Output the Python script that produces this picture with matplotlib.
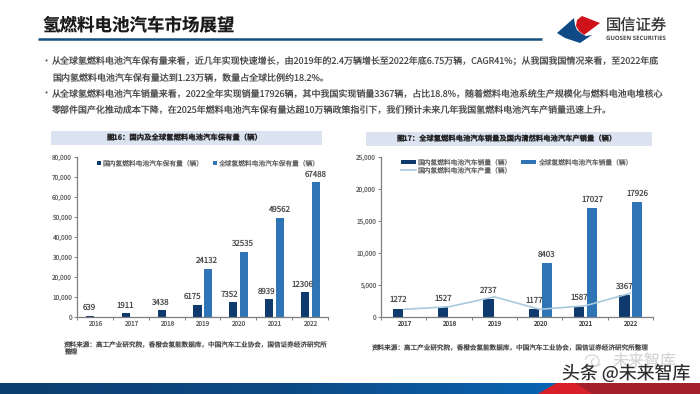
import numpy as np
import matplotlib
matplotlib.use('Agg')
import matplotlib.pyplot as plt
from matplotlib.patches import Polygon, Rectangle, Arc

plt.rcParams['font.family'] = ['Noto Sans CJK SC', 'DejaVu Sans']
plt.rcParams['text.hinting'] = 'no_hinting'

W, H = 700, 394

# 图16 data
years_l = ['2016', '2017', '2018', '2019', '2020', '2021', '2022']
china_stock = [639, 1911, 3438, 6175, 7352, 8939, 12306]
world_stock = [0, 0, 0, 24132, 32535, 49562, 67488]
world_stock_labels = ['', '', '', '24132', '32535', '49562', '67488']
yticks_l = [0, 10000, 20000, 30000, 40000, 50000, 60000, 70000, 80000]

# 图17 data
years_r = ['2017', '2018', '2019', '2020', '2021', '2022']
china_sales = [1272, 1527, 2737, 1177, 1587, 3367]
world_sales = [0, 0, 0, 8403, 17027, 17926]
world_sales_labels = ['', '', '', '8403', '17027', '17926']
china_output = [1200, 1600, 3150, 1200, 1750, 3700]
yticks_r = [0, 5000, 10000, 15000, 20000, 25000]

body_lines = [
    '从全球氢燃料电池汽车保有量来看，近几年实现快速增长，由2019年的2.4万辆增长至2022年底6.75万辆，CAGR41%；从我国我国情况来看，至2022年底',
    '国内氢燃料电池汽车保有量达到1.23万辆，数量占全球比例约18.2%。',
    '从全球氢燃料电池汽车销量来看，2022全年实现销量17926辆，其中我国实现销量3367辆，占比18.8%，随着燃料电池系统生产规模化与燃料电池电堆核心',
    '零部件国产化推动成本下降，在2025年燃料电池汽车保有量达超10万辆政策指引下，我们预计未来几年我国氢燃料电池汽车产销量迅速上升。',
]

NAVY = '#0f3a6e'
BLUE = '#2f75b5'
GREY = '#7f7f7f'
TXT = '#4a4a4a'
TICK = '#666666'


def px_axes(fig, x0, y0, x1, y1):
    # 像素坐标 -> figure 坐标 (y0 top, y1 bottom)
    return fig.add_axes([x0 / W, 1 - y1 / H, (x1 - x0) / W, (y1 - y0) / H])


def style_axis(ax, yticks, ymax, n):
    ax.set_xlim(-0.5, n - 0.5)
    ax.set_ylim(0, ymax)
    ax.set_yticks(yticks)
    ax.set_yticklabels([f'{v:,}' for v in yticks], fontsize=4.7, color=TICK)
    ax.set_xticks(np.arange(n + 1) - 0.5)
    ax.set_xticklabels([''] * (n + 1))
    for s in ['top', 'right']:
        ax.spines[s].set_visible(False)
    for s in ['left', 'bottom']:
        ax.spines[s].set_color(GREY)
        ax.spines[s].set_linewidth(0.9)
    ax.tick_params(axis='both', length=2, width=0.7, color=GREY, pad=1.5)
    ax.patch.set_alpha(0)


fig = plt.figure(figsize=(W / 100, H / 100), dpi=100, facecolor='white')

# page layer, in pixels
bg = fig.add_axes([0, 0, 1, 1])
bg.axis('off')

bg.text(43, 25.5, '氢燃料电池汽车市场展望', fontsize=12.6, fontweight='bold', color='#1a1a1a', va='center')
bg.plot([38, 542], [39, 39], color='#17507f', lw=1.8, solid_capstyle='butt')

# logo
bg.add_patch(Polygon([(557, 33), (574, 18), (575, 25), (577, 30), (582, 34), (586, 36), (592, 35),
                      (580, 43), (565, 38)], fc='#0f4a86', ec='none'))
bg.add_patch(Polygon([(577, 20), (582, 16), (600, 23), (584, 35), (579, 31), (576, 26)], fc='#d0121b', ec='none'))
bg.text(606, 25.5, '国信证券', fontsize=11, color='#333333', va='center', fontweight='medium')
bg.text(606, 38, 'GUOSEN SECURITIES', fontsize=4.3, color='#444444', va='center', fontweight='bold', family='Open Sans')

# 正文
for y, s in zip([62, 78, 94, 110], body_lines):
    bg.text(52, y, s, fontsize=6.47, color=TXT, va='center')
for y in [62, 94]:
    bg.text(42, y, '•', fontsize=6.47, color=TXT, va='center')

# chart title bands
bg.add_patch(Rectangle((51, 131), 271, 14, fc='#dbe3f1', ec='none'))
bg.add_patch(Rectangle((366, 132), 286, 14, fc='#dbe3f1', ec='none'))
bg.text(184.5, 138, '图16：国内及全球氢燃料电池汽车保有量（辆）', fontsize=5.3, fontweight='bold', color='#262626', ha='center', va='center')
bg.text(507, 139, '图17：全球氢燃料电池汽车销量及国内清然料电池汽车产销量（辆）', fontsize=5.25, fontweight='bold', color='#262626', ha='center', va='center')

# sources
bg.text(64, 345, '资料来源：高工产业研究院，香橙会氢能数据库，中国汽车工业协会，国信证券经济研究所', fontsize=4.75, color=TXT, va='center')
bg.text(64, 353, '整理', fontsize=4.75, color=TXT, va='center')
bg.text(372, 348, '资料来源：高工产业研究院，香橙会氢能数据库，中国汽车工业协会，国信证券经济研究所整理', fontsize=4.75, color=TXT, va='center')

# bottom band
grad = np.linspace(0, 1, 350).reshape(1, -1)
band = matplotlib.colors.LinearSegmentedColormap.from_list('b', ['#0c3f70', '#0c4a85', '#0a66b5'])
bg.imshow(grad, extent=(0, 570, 394, 383), aspect='auto', cmap=band, zorder=1)
bg.add_patch(Polygon([(538, 394), (557, 383), (700, 383), (700, 394)], fc='#a3212b', ec='none', zorder=2))
bg.add_patch(Polygon([(538, 394), (557, 383), (575, 383), (592, 394)], fc='#d81f2a', ec='none', zorder=3))
bg.set_xlim(0, W)
bg.set_ylim(H, 0)

# watermark
bg.add_patch(Arc((592, 361), 14, 12, theta1=190, theta2=60, color='#d5d5d5', lw=0.9, zorder=3))
bg.add_patch(Arc((596, 362), 9, 8, theta1=20, theta2=250, color='#d5d5d5', lw=0.9, zorder=3))
bg.text(613, 362, '未来智库', fontsize=11.5, color='#d5d5d5', va='center', zorder=3)
bg.text(562, 374, '头条 @未来智库', fontsize=12.9, color='#2b2b2b', va='center', zorder=4)

# left chart
ax1 = px_axes(fig, 77, 157, 328, 317)
style_axis(ax1, yticks_l, 80000, len(years_l))
x1 = np.arange(len(years_l))
ax1.bar(x1 - 0.14, china_stock, 0.225, color=NAVY, label='国内氢燃料电池汽车保有量（辆）')
ax1.bar(x1 + 0.16, world_stock, 0.225, color=BLUE, label='全球氢燃料电池汽车保有量（辆）')
# 标签偏移 (px)
china_dx = [-5.5, -6, -6, -10, -9, -8, -8]
world_dx = [0, 0, 0, 4, 5, 5, 6]
px_per_x = 251 / 7
for x, v, dx in zip(x1, china_stock, china_dx):
    ax1.text(x + dx / px_per_x, v + 8 * 500, str(v), ha='center', va='center', fontsize=5.7, color=TXT, zorder=5)
for x, v, s, dx in zip(x1, world_stock, world_stock_labels, world_dx):
    ax1.text(x + dx / px_per_x, v + 8 * 500, s, ha='center', va='center', fontsize=5.7, color=TXT, zorder=5)
for x, s in zip(x1, years_l):
    ax1.text(x, -3500, s, ha='center', va='center', fontsize=4.6, color=TICK)
ax1.legend(loc='center left', bbox_to_anchor=(0.068, 0.96), ncol=2, frameon=False, fontsize=4.85,
           labelcolor=TICK, handlelength=0.6, handleheight=0.6, handletextpad=0.2,
           columnspacing=1.3, borderpad=0)

# right chart
ax2 = px_axes(fig, 381, 157, 653, 317)
style_axis(ax2, yticks_r, 25000, len(years_r))
x2 = np.arange(len(years_r))
b1 = ax2.bar(x2 - 0.13, china_sales, 0.225, color=NAVY, label='国内氢燃料电池汽车销量（辆）')
b2 = ax2.bar(x2 + 0.155, world_sales, 0.225, color=BLUE, label='全球氢燃料电池汽车销量（辆）')
l1, = ax2.plot(x2, china_output, color='#a9c9dc', lw=1.2, label='国内氢燃料电池汽车产量（辆）')
for x, v in zip(x2, china_sales):
    ax2.text(x - 0.13, v + 1400, str(v), ha='center', va='center', fontsize=5.7, color=TXT, zorder=5)
for x, v, s in zip(x2, world_sales, world_sales_labels):
    ax2.text(x + 0.155, v + 1400, s, ha='center', va='center', fontsize=5.7, color=TXT, zorder=5)
for x, s in zip(x2, years_r):
    ax2.text(x, -1100, s, ha='center', va='center', fontsize=4.6, color=TXT)
ax2.legend(handles=[b1, l1, b2], loc='upper left', bbox_to_anchor=(0.06, 1.01), ncol=2, frameon=False,
           fontsize=4.85, labelcolor=TICK, handlelength=2.2, handleheight=0.6, handletextpad=0.35,
           columnspacing=1.3, borderpad=0, labelspacing=0.05)

fig.savefig('out.png', dpi=100)
